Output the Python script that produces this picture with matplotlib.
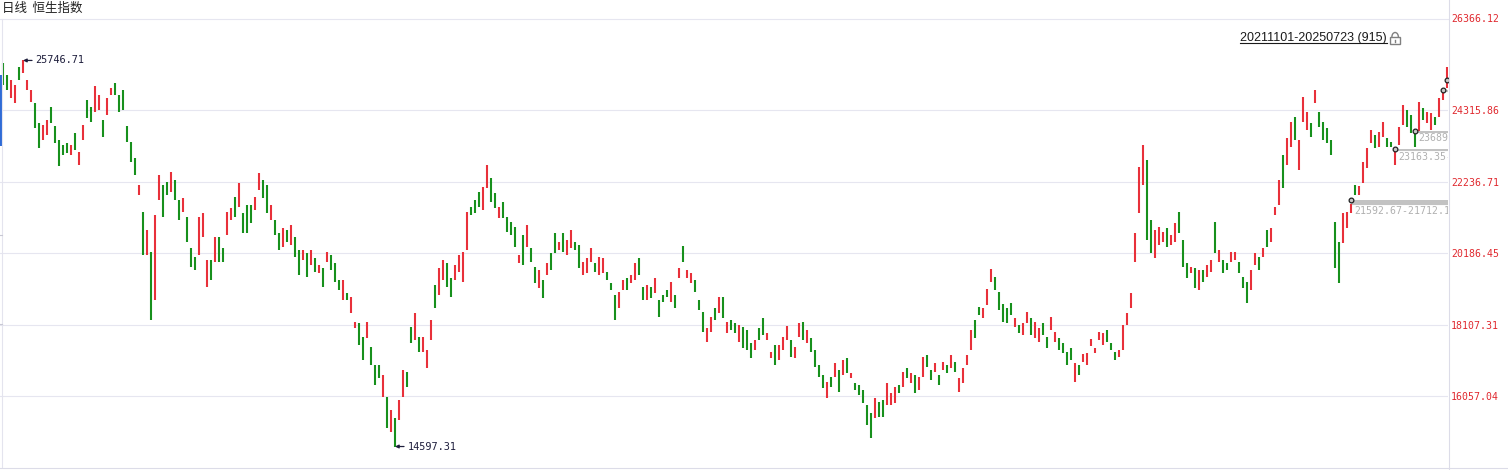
import numpy as np
import matplotlib
matplotlib.use('Agg')
import matplotlib.pyplot as plt
from matplotlib.patches import Rectangle, Arc

title = '日线  恒生指数'
period = '20211101-20250723 (915)'

# body of each candle (about every 3rd trading day)
opens = [
    25673, 25327, 24663, 24518, 25558, 25384, 24894, 24547, 24518, 23940,
    23450, 23594, 24403, 23854, 23450, 23306, 23363, 23017, 23651, 22728,
    23450, 24605, 24403, 24258, 24316, 24027, 24172, 24750, 25095, 24750,
    24894, 23854, 23392, 22930, 21862, 21370, 20129, 20215, 18829, 21717,
    22150, 22236, 21948, 22294, 21717, 21370, 21226, 20331, 20071, 20129,
    20648, 19204, 19984, 19926, 20648, 20331, 20706, 21139, 21804, 21515,
    21341, 21573, 21573, 21428, 22006, 22294, 22150, 21139, 21139, 20763,
    20360, 20850, 20418, 20648, 20273, 19984, 20186, 19840, 20042, 19608,
    19753, 19926, 20129, 19897, 19406, 18829, 19031, 18453, 18020, 18164,
    17761, 17732, 17472, 16952, 16952, 16028, 16028, 15016, 15421, 15363,
    16028, 16749, 18049, 17674, 17761, 17327, 16865, 17674, 19262, 18974,
    19406, 19897, 19464, 19406, 19637, 19348, 20273, 21515, 21717, 21948,
    21428, 22064, 22352, 21919, 21197, 21659, 21226, 21081, 20937, 19897,
    20706, 20360, 20331, 19782, 19176, 19406, 19551, 20186, 20763, 20273,
    20763, 20129, 20331, 20504, 20418, 19551, 19608, 19926, 19897, 19551,
    19608, 19637, 19319, 18974, 18598, 19118, 19464, 19319, 19406, 20042,
    19204, 18829, 19204, 19031, 18829, 18974, 19118, 18771, 18974, 19464,
    20389, 19464, 19319, 19406, 18829, 18482, 17616, 17904, 18598, 18453,
    18916, 17875, 18251, 18164, 17616, 18049, 17962, 17587, 17385, 18020,
    18309, 17674, 17154, 17530, 17096, 17385, 17674, 17674, 17154, 17761,
    18193, 17587, 17732, 17385, 16952, 16663, 15999, 16605, 16605, 16807,
    16663, 17154, 16576, 16431, 16374, 16230, 15797, 15565, 15421, 15883,
    15941, 15797, 15797, 15854, 16374, 16316, 16865, 16431, 16663, 16230,
    16605, 17241, 16807, 16749, 16663, 16807, 16952, 16865, 17038, 16172,
    16431, 16952, 17385, 18251, 18627, 18309, 18684, 19348, 19493, 19060,
    18713, 18598, 18742, 18049, 18107, 17818, 18164, 18309, 17732, 17616,
    18164, 17761, 17962, 17616, 17732, 17587, 17327, 17443, 16460, 16952,
    17038, 16952, 17501, 17298, 17674, 17530, 17962, 17587, 17327, 17183,
    17385, 18107, 18598, 19926, 21341, 22150, 22872, 21139, 20042, 20418,
    20504, 20908, 20418, 20504, 21370, 20562, 19897, 19608, 19753, 19118,
    19695, 19493, 19637, 21081, 19926, 19984, 19897, 19926, 19984, 19926,
    19493, 19348, 19118, 19840, 20071, 20071, 20850, 20504, 21283, 21573,
    23017, 22728, 23248, 24114, 22583, 23969, 23738, 23940, 24518, 24258,
    23969, 23796, 23450, 21081, 20504, 20475, 20908, 21341, 22150, 21862,
    22207, 22641, 23363, 23594, 23248, 23536, 23507, 23392, 22728, 23306,
    23883, 24316, 24172, 23689, 23709, 24374, 23940, 23738, 24114, 24114,
    24605, 24950,
]
closes = [
    25038, 24894, 25182, 25038, 25182, 25746.71, 25182, 24894, 23796, 23219,
    23883, 24027, 23940, 23363, 22699, 23017, 23074, 23306, 23161, 23103,
    23883, 24085, 23969, 25009, 24750, 23536, 24663, 24951, 24750, 24258,
    24316, 23392, 22814, 22439, 22150, 20129, 20850, 18251, 21283, 22439,
    21226, 21862, 22525, 21717, 21139, 21775, 20504, 19782, 19695, 21226,
    21341, 19984, 19406, 20648, 19926, 19926, 21370, 21486, 21226, 22207,
    20763, 20763, 21052, 21804, 22496, 21775, 21341, 21573, 20706, 20273,
    20908, 20504, 20995, 20071, 19551, 20273, 19493, 20273, 19637, 19840,
    19204, 20215, 19695, 19348, 19118, 19406, 18829, 18916, 18193, 17530,
    17096, 18193, 16952, 16374, 16576, 16663, 15132, 15652, 14597.31, 15941,
    16807, 16316, 17587, 18453, 17327, 17761, 17385, 18251, 18598, 19753,
    19984, 19204, 18916, 19840, 20129, 20215, 21370, 21283, 21341, 21515,
    22093, 22728, 21659, 21486, 21515, 21197, 20792, 20706, 20360, 20129,
    19840, 20995, 19926, 19319, 19695, 18887, 19897, 19695, 20186, 20504,
    20215, 20562, 20850, 20273, 19753, 19926, 20042, 20331, 19637, 20071,
    20042, 19406, 19118, 18251, 19060, 19406, 19118, 19551, 19897, 19551,
    18829, 19262, 18887, 19464, 18338, 18771, 18916, 19348, 18598, 19753,
    19926, 19695, 19608, 19060, 18540, 17904, 18020, 18338, 18251, 18916,
    18309, 18193, 17962, 17875, 18107, 17443, 17385, 17154, 17674, 17674,
    17818, 17875, 17327, 16952, 17530, 17761, 18078, 17183, 17472, 18164,
    17674, 17962, 17327, 16894, 16605, 16288, 16460, 16316, 17009, 16172,
    17096, 16720, 16720, 16230, 16086, 15854, 15219, 14843, 15999, 15450,
    15450, 16431, 16143, 16316, 16143, 16749, 16576, 16720, 16143, 16605,
    17183, 16894, 16518, 17009, 16374, 17038, 16720, 17241, 16749, 16576,
    16865, 17241, 17962, 17732, 18396, 18598, 19146, 19724, 19118, 18540,
    18193, 18164, 18396, 18309, 17875, 18164, 18482, 17818, 18193, 18020,
    17818, 17443, 18338, 17904, 17385, 17298, 16952, 17096, 17009, 16663,
    17269, 17298, 17703, 17443, 17904, 17875, 17616, 17385, 17096, 17385,
    18107, 18453, 19031, 20763, 22670, 23300, 20562, 20186, 20850, 20937,
    20792, 20360, 20706, 21052, 20763, 19782, 19464, 19782, 19176, 19695,
    19348, 19840, 19984, 20186, 20273, 19608, 19695, 20215, 20215, 19608,
    19176, 18742, 19695, 20186, 19695, 20331, 20360, 20908, 21515, 22294,
    22064, 23507, 23969, 23450, 23450, 24692, 24258, 23536, 24894, 23825,
    23450, 23363, 23017, 19753, 19319, 21341, 21370, 21593, 21862, 22121,
    22814, 23219, 23738, 23219, 23680, 23969, 23248, 23248, 23163, 23825,
    24460, 23825, 23651, 23248, 24547, 24027, 24258, 24229, 23883, 24663,
    24864, 25558,
]

grid_vals = [24315.86, 22236.71, 20186.45, 18107.31, 16057.04]
top_label = '26366.12'
y_range = [14005.7, 26943.9]

# unfilled gaps (bar index, lower edge, upper edge); the last two sit on the edge
gap_idx = [337, 348, 353, 360, 361]
gap_low = [21592.67, 23163.35, 23689.12, 24864.40, 25153.20]
gap_high = [21712.16, 23195.60, 23706.85, 24880.10, 25170.30]
gap_labelled = [True, True, True, False, False]

up_col = '#e8303a'
dn_col = '#17901c'
grid_col = '#e6e6f0'
axis_red = '#e0282e'
navy = '#1e1e3c'
gap_col = '#c2c2c2'
gap_txt = '#b0b0b0'
mono = 'DejaVu Sans Mono'

W, H = 1508, 470
fig = plt.figure(figsize=(W / 100, H / 100), dpi=100)
fig.patch.set_facecolor('white')
ax = fig.add_axes([0, 3 / H, 1448 / W, 448 / H])

o = np.array(opens, dtype=float)
c = np.array(closes, dtype=float)
x = np.arange(len(o))
lo = np.minimum(o, c)
hi = np.maximum(o, c)
cols = np.where(c >= o, up_col, dn_col)
ax.vlines(x, lo, hi, colors=cols, lw=1.5, zorder=3)

ax.set_xlim(-0.75, len(o) - 0.75)
ax.set_ylim(*y_range)

# grid + right price axis
ax.yaxis.tick_right()
ax.set_yticks(grid_vals)
ax.set_yticklabels([f'{v:.2f}' for v in grid_vals], fontfamily=mono)
ax.tick_params(axis='y', length=0, pad=2.2, labelsize=7.1, labelcolor=axis_red)
ax.set_xticks([])
ax.grid(axis='y', color=grid_col, lw=0.8)
ax.set_axisbelow(True)
for s in ['left', 'right', 'bottom']:
    ax.spines[s].set_visible(False)
ax.spines['top'].set_color(grid_col)
ax.spines['top'].set_linewidth(0.8)
ax.annotate(top_label, xy=(1, 1), xycoords='axes fraction', xytext=(2.2, 0),
            textcoords='offset points', ha='left', va='center', fontsize=7.1,
            family=mono, color=axis_red, annotation_clip=False)

# highest / lowest marks
imax = int(np.argmax(hi))
imin = int(np.argmin(lo))
for i, v in [(imax, hi[imax]), (imin, lo[imin])]:
    ax.annotate(f'{v:.2f}', xy=(i, v), xytext=(9, 0), textcoords='offset points',
                ha='left', va='center', fontsize=7.4, family=mono, color=navy,
                arrowprops=dict(arrowstyle='-|>', color=navy, lw=0.9,
                                shrinkA=0.5, shrinkB=0, mutation_scale=5),
                zorder=6)

# gap markers
x_end = len(o) - 0.75
for i, g0, g1, lab in zip(gap_idx, gap_low, gap_high, gap_labelled):
    ax.fill_between([i, x_end], g0, g1, color=gap_col, lw=0, zorder=2)
    ax.plot([i, x_end], [g0, g0], color=gap_col, lw=0.8, zorder=2)
    ax.plot(i, g1, marker='o', ms=3.4, mfc='#c8c8c8', mec='#202020', mew=0.9, zorder=5)
    if lab:
        ax.annotate(f'{g0:.2f}-{g1:.2f}', xy=(i, g0), xytext=(2.5, -1.2),
                    textcoords='offset points', ha='left', va='top', fontsize=7.1,
                    family=mono, color=gap_txt, annotation_clip=False,
                    clip_on=True, zorder=4)

# overlay in pixel coordinates for frame bits and headers
ov = fig.add_axes([0, 0, 1, 1], zorder=5)
ov.set_xlim(0, W)
ov.set_ylim(H, 0)
ov.axis('off')
ov.patch.set_alpha(0)
ov.plot([1448.5, 1448.5], [0, H], color='#dcdce8', lw=0.8)
ov.plot([0, W], [467.5, 467.5], color='#dcdce8', lw=0.8)
ov.plot([2, 2], [19, 467], color='#e4e4ee', lw=0.8)
ov.add_patch(Rectangle((0, 75), 2.2, 71, color='#2f6bd6', lw=0))
for yy in [235, 324]:
    ov.plot([0, 2], [yy, yy], color='#c8c8d4', lw=0.8)

ov.text(2, 8.5, title, ha='left', va='center', fontsize=9,
        family=['Noto Sans CJK SC', 'DejaVu Sans'], color='#202020')
ptxt = ov.text(1240, 37.5, period, ha='left', va='center', fontsize=9,
               family='Liberation Sans', color='#1a1a1a')

fig.canvas.draw()
bb = ptxt.get_window_extent()
inv = ov.transData.inverted()
(tx0, ty0), (tx1, ty1) = inv.transform([[bb.x0, bb.y0], [bb.x1, bb.y1]])
ov.plot([tx0, tx1], [ty0 - 0.5, ty0 - 0.5], color='#1a1a1a', lw=0.8)

# padlock icon
lx = tx1 + 3.5
ov.add_patch(Rectangle((lx, 37), 10, 6.5, fill=False, ec='#808080', lw=1.0))
ov.add_patch(Arc((lx + 5, 37), 6.5, 9, theta1=180, theta2=360, ec='#808080', lw=1.0))
ov.plot([lx + 5, lx + 5], [39.5, 41.5], color='#808080', lw=1.0)

fig.savefig('out.png', dpi=100, facecolor='white')
